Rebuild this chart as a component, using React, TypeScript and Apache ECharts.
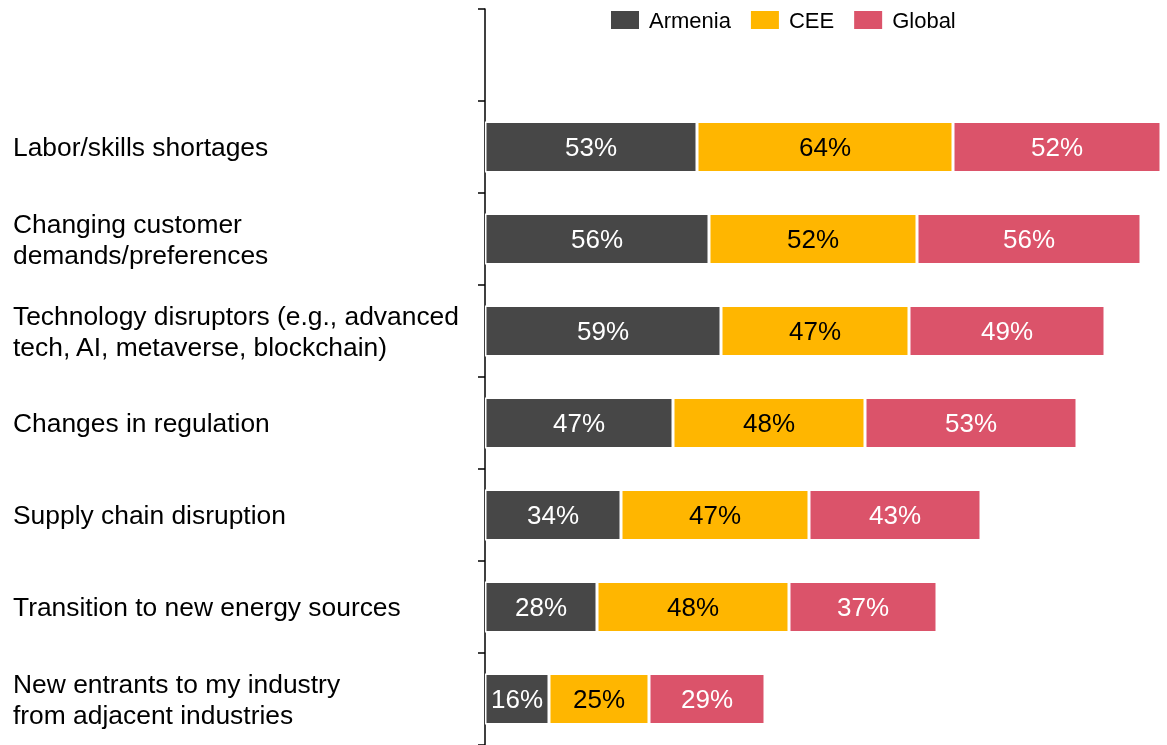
import React, { useEffect, useRef } from "react";
import * as echarts from "echarts";

const categories = [
  "",
  "Labor/skills shortages",
  "Changing customer\ndemands/preferences",
  "Technology disruptors (e.g., advanced\ntech, AI, metaverse, blockchain)",
  "Changes in regulation",
  "Supply chain disruption",
  "Transition to new energy sources",
  "New entrants to my industry\nfrom adjacent industries",
];
const armenia = [null, 53, 56, 59, 47, 34, 28, 16];
const cee = [null, 64, 52, 47, 48, 47, 48, 25];
const global = [null, 52, 56, 49, 53, 43, 37, 29];
const seriesNames = ["Armenia", "CEE", "Global"];
const colors = ["#474747", "#FFB600", "#DB536A"];
const labelColors = ["#ffffff", "#000000", "#ffffff"];

export default function App() {
  const ref = useRef<HTMLDivElement>(null);
  useEffect(() => {
    if (!ref.current) return;
    const chart = echarts.init(ref.current, undefined, { renderer: "svg" });
    const data = [armenia, cee, global];
    chart.setOption({
      animation: false,
      textStyle: { fontFamily: "Liberation Sans, Arial, sans-serif" },
      legend: {
        top: 4,
        left: 604,
        itemWidth: 30,
        itemHeight: 20,
        itemGap: 18,
        icon: "rect",
        textStyle: {
          fontSize: 22,
          color: "#000",
          padding: [0, 0, 0, 4],
          fontFamily: "Liberation Sans, Arial, sans-serif",
        },
        data: seriesNames,
      },
      grid: { left: 485, right: 0, top: 9, bottom: 0, containLabel: false },
      xAxis: { type: "value", min: 0, max: 170.5, show: false },
      yAxis: {
        type: "category",
        inverse: true,
        data: categories,
        axisLine: { show: true, lineStyle: { color: "#000", width: 1.5 } },
        axisTick: { show: true, length: 7, lineStyle: { color: "#000", width: 1.5 } },
        axisLabel: {
          align: "left",
          margin: 472,
          fontSize: 26.4,
          lineHeight: 31,
          color: "#000",
          fontFamily: "Liberation Sans, Arial, sans-serif",
        },
      },
      series: seriesNames.map((name, i) => ({
        name,
        type: "bar",
        stack: "total",
        barWidth: 51,
        data: data[i],
        itemStyle: { color: colors[i], borderColor: "#fff", borderWidth: 1.5 },
        label: {
          show: true,
          position: "inside",
          formatter: "{c}%",
          fontSize: 26,
          color: labelColors[i],
          fontFamily: "Liberation Sans, Arial, sans-serif",
        },
      })),
    });
    return () => chart.dispose();
  }, []);
  return <div ref={ref} style={{ position: "fixed", left: 0, top: 0, width: 1167, height: 745 }} />;
}
